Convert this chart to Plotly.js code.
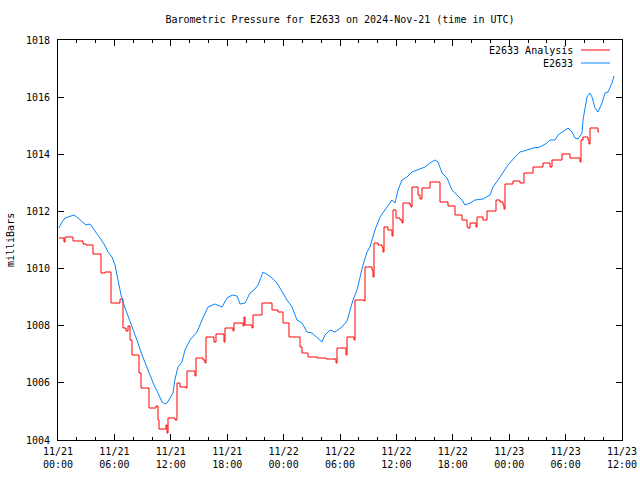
<!DOCTYPE html>
<html>
<head>
<meta charset="utf-8">
<script src="https://cdn.plot.ly/plotly-3.0.1.min.js"></script>
<style>html,body{margin:0;padding:0;background:#fff}#chart{width:640px;height:480px}</style>
</head>
<body>
<div id="chart"></div>
<script>
// Time base: hours since 2024-11-21 00:00 UTC
const startUTC = Date.UTC(2024, 10, 21, 0, 0, 0);

// E2633 observed pressure (mb)
const obsHours = [0.106,0.426,0.745,1.277,1.702,2.128,2.553,2.979,3.404,3.723,4.043,4.468,4.894,5.319,5.745,6.064,6.277,6.489,6.702,7.021,7.34,7.766,8.191,8.511,8.936,9.362,9.787,10.213,10.638,11.064,11.383,11.596,11.915,12.234,12.447,12.766,13.191,13.511,14.043,14.787,15.319,15.638,15.957,16.702,17.447,17.979,18.511,19.043,19.362,19.894,20.426,20.957,21.277,21.489,21.809,22.34,22.766,23.298,23.83,24.362,24.894,25.426,25.957,26.489,27.021,27.66,28.085,28.404,28.936,29.468,29.787,30.213,30.745,31.064,31.383,31.809,32.128,32.447,32.872,33.191,33.723,34.255,35.0,35.532,35.851,36.17,36.596,37.128,37.66,38.298,39.043,39.574,40.106,40.426,40.851,41.383,41.915,42.447,42.979,43.298,43.83,44.362,45.213,45.957,46.277,46.809,47.34,47.872,48.617,49.149,49.894,50.532,51.277,52.021,52.34,52.872,53.191,53.936,54.255,54.681,55.0,55.319,55.745,55.851,56.064,56.277,56.596,56.809,57.128,57.447,57.872,58.191,58.511,58.936,59.149];
const obsPressure = [1011.42,1011.63,1011.77,1011.84,1011.875,1011.77,1011.63,1011.525,1011.56,1011.42,1011.245,1011.07,1010.86,1010.58,1010.405,1010.125,1009.775,1009.425,1009.075,1008.725,1008.445,1008.095,1007.745,1007.395,1006.975,1006.625,1006.205,1005.925,1005.645,1005.33,1005.26,1005.295,1005.47,1005.645,1006.135,1006.555,1006.73,1007.15,1007.5,1007.78,1008.2,1008.445,1008.655,1008.76,1008.655,1008.97,1009.075,1009.04,1008.76,1008.795,1009.145,1009.285,1009.425,1009.6,1009.88,1009.775,1009.67,1009.495,1009.18,1008.9,1008.655,1008.2,1008.095,1007.78,1007.745,1007.57,1007.43,1007.675,1007.85,1007.78,1007.85,1007.955,1008.165,1008.55,1008.9,1009.25,1009.705,1010.125,1010.58,1010.755,1011.35,1011.805,1012.155,1012.4,1012.295,1012.75,1013.1,1013.205,1013.38,1013.45,1013.555,1013.695,1013.8,1013.73,1013.345,1013.17,1012.75,1012.575,1012.4,1012.225,1012.295,1012.4,1012.435,1012.575,1012.855,1013.1,1013.38,1013.625,1013.905,1014.08,1014.15,1014.22,1014.255,1014.395,1014.5,1014.5,1014.675,1014.85,1014.92,1014.78,1014.57,1014.535,1014.745,1015.2,1015.655,1016.005,1016.145,1016.005,1015.62,1015.48,1015.795,1016.145,1016.18,1016.495,1016.74];

// E2633 Analysis (stepped)
const anaHours = [0.106,0.638,0.745,1.596,2.66,2.979,3.723,4.574,5.0,5.638,6.596,6.915,7.234,7.447,7.66,7.872,8.617,8.83,9.681,10.426,10.638,10.745,11.489,11.596,11.702,12.447,12.66,12.979,13.617,13.723,14.574,14.681,15.426,15.638,15.745,16.596,16.809,17.66,17.766,18.617,18.723,19.681,19.787,19.894,20.638,20.745,21.70,22.766,23.404,23.936,24.574,25.745,25.957,26.596,27.553,28.511,29.574,29.681,30.638,30.745,31.489,31.596,32.553,32.66,33.404,33.511,33.617,34.043,34.468,34.574,34.681,35.106,35.532,35.638,35.957,36.383,36.596,36.702,37.447,37.553,37.66,38.298,38.511,38.723,39.574,40.638,41.489,42.234,42.979,43.511,43.617,43.83,44.468,44.574,45.213,45.638,46.596,47.021,47.34,47.447,47.553,48.404,49.149,49.574,50.532,51.596,52.34,52.553,53.617,54.468,55.532,55.638,55.851,56.383,56.489,56.596,57.447,57.553];
const anaPressure = [1011.07,1010.93,1011.105,1010.965,1010.86,1010.825,1010.51,1009.845,1009.88,1008.795,1008.935,1007.92,1007.815,1007.99,1007.5,1006.975,1006.345,1005.82,1005.12,1005.19,1004.70,1004.385,1004.525,1004.245,1004.77,1004.70,1005.995,1005.855,1005.82,1006.415,1006.24,1006.87,1006.80,1006.695,1007.605,1007.43,1007.71,1007.43,1007.92,1007.815,1008.095,1007.99,1008.305,1008.025,1007.92,1008.375,1008.795,1008.55,1008.48,1008.095,1007.605,1007.255,1007.045,1006.905,1006.87,1006.835,1006.695,1007.22,1006.975,1007.605,1007.50,1008.90,1008.865,1010.055,1009.95,1009.705,1010.895,1010.825,1010.755,1010.58,1011.455,1011.35,1011.14,1012.05,1011.77,1011.70,1011.595,1012.295,1012.225,1012.155,1012.855,1012.575,1012.435,1012.82,1013.03,1012.33,1012.19,1011.875,1011.70,1011.455,1011.42,1011.595,1011.455,1011.805,1011.70,1012.015,1012.40,1012.33,1012.225,1012.085,1012.96,1013.065,1012.995,1013.345,1013.555,1013.695,1013.555,1013.80,1014.01,1013.87,1013.73,1014.50,1014.605,1014.50,1014.36,1014.92,1014.78,1014.78];

const seriesNames = ["E2633 Analysis", "E2633"];
const seriesColors = ["#ff0000", "#0a84ff"];

function toDate(h) {
  return new Date(startUTC + h * 3600e3).toISOString().slice(0, 19).replace('T', ' ');
}

const font = "'DejaVu Sans Mono', 'Liberation Mono', monospace";

const traces = [
  {x: anaHours.map(toDate), y: anaPressure, type: 'scatter', mode: 'lines',
   line: {color: seriesColors[0], width: 1, shape: 'hv'}, name: seriesNames[0]},
  {x: obsHours.map(toDate), y: obsPressure, type: 'scatter', mode: 'lines',
   line: {color: seriesColors[1], width: 1}, name: seriesNames[1]}
];

const layout = {
  width: 640, height: 480,
  margin: {l: 58, r: 18, t: 40, b: 40},
  paper_bgcolor: '#fff', plot_bgcolor: '#fff',
  showlegend: false,
  font: {family: font, size: 10, color: '#000'},
  title: {text: 'Barometric Pressure for E2633 on 2024-Nov-21 (time in UTC)',
          x: 0.5, xref: 'paper', y: 1 - 19/480, yref: 'container', yanchor: 'middle',
          font: {family: font, size: 10, color: '#000'}},
  xaxis: {
    type: 'date', range: ['2024-11-21 00:00:00', '2024-11-23 12:00:00'],
    tick0: '2024-11-21 00:00:00', dtick: 6*3600e3, tickformat: '%m/%d<br>%H:%M',
    ticks: 'inside', ticklen: 6, tickcolor: '#000', showgrid: false, zeroline: false,
    showline: true, linecolor: '#000', linewidth: 1, mirror: 'ticks',
    ticklabelstandoff: 2,
    minor: {dtick: 2*3600e3, ticks: 'inside', ticklen: 3, tickcolor: '#000', showgrid: false},
    tickfont: {family: font, size: 10, color: '#000'}
  },
  yaxis: {
    range: [1004, 1018], dtick: 2, tick0: 1004,
    ticks: 'inside', ticklen: 6, tickcolor: '#000', showgrid: false, zeroline: false,
    showline: true, linecolor: '#000', linewidth: 1, mirror: 'ticks',
    ticklabelstandoff: 5,
    tickfont: {family: font, size: 10, color: '#000'}
  },
  annotations: [
    {text: 'milliBars', xref: 'paper', yref: 'paper', x: -48/564, y: 0.5,
     textangle: -90, showarrow: false, xanchor: 'center', yanchor: 'middle',
     font: {family: font, size: 10, color: '#000'}},
    {text: seriesNames[0], xref: 'paper', yref: 'paper', x: (575-58)/564, y: (440-50)/400,
     xanchor: 'right', yanchor: 'middle', showarrow: false, font: {family: font, size: 10, color: '#000'}},
    {text: seriesNames[1], xref: 'paper', yref: 'paper', x: (575-58)/564, y: (440-63)/400,
     xanchor: 'right', yanchor: 'middle', showarrow: false, font: {family: font, size: 10, color: '#000'}}
  ],
  shapes: [
    {type: 'line', xref: 'paper', yref: 'paper', x0: (581-58)/564, x1: (610-58)/564,
     y0: (440-50)/400, y1: (440-50)/400, line: {color: seriesColors[0], width: 1}},
    {type: 'line', xref: 'paper', yref: 'paper', x0: (581-58)/564, x1: (610-58)/564,
     y0: (440-63)/400, y1: (440-63)/400, line: {color: seriesColors[1], width: 1}}
  ]
};

Plotly.newPlot('chart', traces, layout, {staticPlot: true, displayModeBar: false});
</script>
</body>
</html>
